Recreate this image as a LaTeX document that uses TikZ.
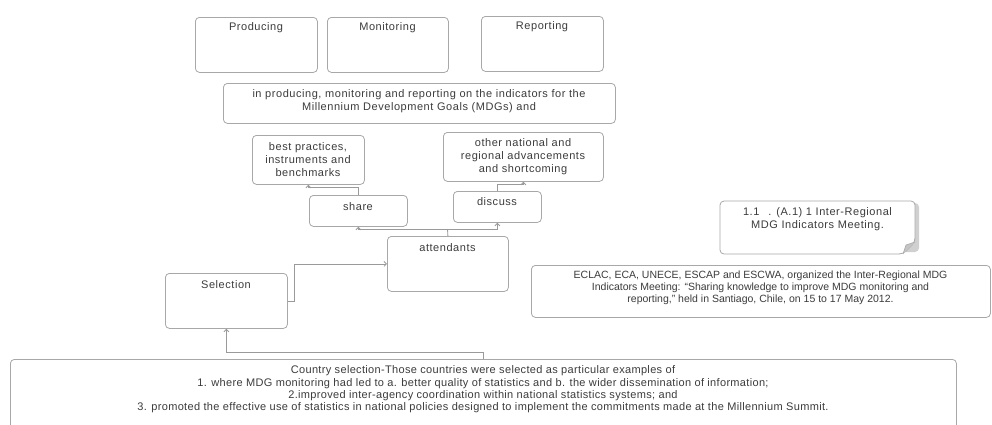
\documentclass[tikz,border=0pt]{standalone}
\usepackage{fontspec}
\setmainfont{Liberation Sans}
\newfontfamily\trackwide[LetterSpace=5]{Liberation Sans}
\newfontfamily\tracklong[LetterSpace=3]{Liberation Sans}
\usetikzlibrary{arrows.meta,calc}
\definecolor{edge}{HTML}{A8A8A8}
\definecolor{ink}{HTML}{3C3C3C}
\definecolor{wire}{HTML}{9A9A9A}
\definecolor{flap}{HTML}{C4C4C4}
\begin{document}
\begin{tikzpicture}[x=1pt,y=-1pt,
  box/.style={draw=edge, line width=0.8pt, rounded corners=4pt, fill=white,
              inner sep=0pt, anchor=north west},
  lbl/.style={text=ink, font=\trackwide\fontsize{11}{12.7}\selectfont, align=center, inner sep=0pt},
  longlbl/.style={lbl, font=\tracklong\fontsize{11}{12.4}\selectfont},
  plainlbl/.style={lbl, font=\fontsize{10.5}{12}\selectfont},
  arr/.style={draw=wire, line width=0.8pt, -{Straight Barb[length=2.5pt,width=5pt]}},
  link/.style={draw=wire, line width=0.8pt}]
\useasboundingbox (0,0) rectangle (992,424);

% top row of activity boxes
\node[box, minimum width=122pt, minimum height=55pt] (prod) at (195,17) {};
\node[box, minimum width=121pt, minimum height=55pt] (mon)  at (327,17) {};
\node[box, minimum width=122pt, minimum height=55pt] (rep)  at (481,16) {};
\node[lbl] (prodt) at (256,28) {Producing};
\node[lbl] (mont)  at (387.5,28) {Monitoring};
\node[lbl] (rept)  at (542,27) {Reporting};

% scope statement
\node[box, minimum width=392pt, minimum height=40pt] (indic) at (223,83) {};
\node[lbl] (indict) at (419,101.5) {in producing, monitoring and reporting on the indicators for the\\Millennium Development Goals (MDGs) and};

% outcomes
\node[box, minimum width=112pt, minimum height=49pt] (best)  at (252,135) {};
\node[box, minimum width=160pt, minimum height=49pt] (other) at (443,132) {};
\node[lbl] (bestt)  at (308,159.5) {best practices,\\instruments and\\benchmarks};
\node[lbl] (othert) at (523,156.5) {other national and\\regional advancements\\and shortcoming};

% actions
\node[box, minimum width=98pt, minimum height=31pt] (share)   at (309,195) {};
\node[box, minimum width=88pt, minimum height=31pt] (discuss) at (453,191) {};
\node[lbl] (sharet)   at (358,207) {share};
\node[lbl] (discusst) at (497,202) {discuss};

% participants and selection
\node[box, minimum width=121pt, minimum height=55pt] (attend) at (387,236) {};
\node[lbl] (attendt) at (447.5,248) {attendants};
\node[box, minimum width=122pt, minimum height=55pt] (select) at (165,273) {};
\node[lbl] (selectt) at (226,285) {Selection};

% country selection criteria
\node[box, minimum width=946pt, minimum height=85pt] (crit) at (10,359) {};
\node[longlbl] (critt) at (483,389.5) {Country selection-Those countries were selected as particular examples of\\
1. where MDG monitoring had led to a. better quality of statistics and b. the wider dissemination of information;\\
2.improved inter-agency coordination within national statistics systems; and\\
3. promoted the effective use of statistics in national policies designed to implement the commitments made at the Millennium Summit.};

% output note with folded corner
\fill[flap!80, rounded corners=4pt] (724,203) -- (919,203) -- (919,252) -- (724,252) -- cycle;
\draw[edge, line width=0.8pt, fill=white, rounded corners=4pt]
  (720,201) -- (915,201) -- (915,242) -- (903,254) -- (720,254) -- cycle;
\fill[flap] (903,254) -- (915,242) -- (906,245) -- cycle;
\draw[edge, line width=0.6pt] (903,254) -- (906,245) -- (915,242);
\node[lbl] (notet) at (817.5,219) {1.1\hspace{9pt}. (A.1) 1 Inter-Regional\\MDG Indicators Meeting.};

% meeting description
\node[box, minimum width=459pt, minimum height=52pt] (eclac) at (531,265) {};
\node[plainlbl] (eclact) at (760.5,288) {ECLAC, ECA, UNECE, ESCAP and ESCWA, organized the Inter-Regional MDG\\
Indicators Meeting: “Sharing knowledge to improve MDG monitoring and\\
reporting,” held in Santiago, Chile, on 15 to 17 May 2012.};

% connectors
\coordinate (split) at (447.5,229);
\draw[link] (attend.north) -- (split);
\draw[arr] (split) -| (share.south);
\draw[arr] (split) -| (discuss.south);
\draw[arr] (share.north) -- ++(0,-8) -| (best.south);
\draw[arr] (discuss.north) -- ++(0,-7) -| (other.south);
\draw[arr] (select.east) -- ++(7,0) |- (attend.west);
\draw[arr] (crit.north) -- ++(0,-7) -| (select.south);
\end{tikzpicture}
\end{document}
